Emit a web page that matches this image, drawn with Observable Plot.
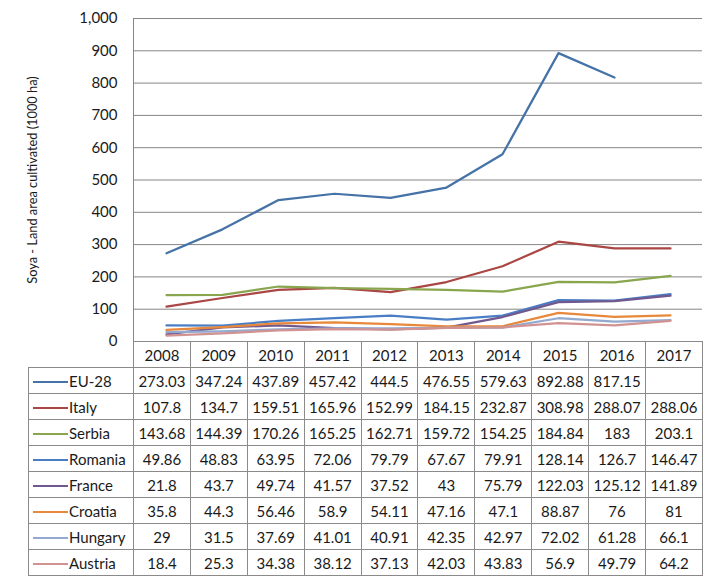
<!DOCTYPE html>
<html>
<head>
<meta charset="utf-8">
<script src="https://cdn.jsdelivr.net/npm/d3@7"></script>
<script src="https://cdn.jsdelivr.net/npm/@observablehq/plot@0.6"></script>
<style>
  html, body { margin: 0; padding: 0; background: #fff; }
  #wrap { position: relative; width: 719px; height: 583px; font-family: Lato, "Open Sans", sans-serif; color: #1a1a1a; }
  #chart { position: absolute; left: 0; top: 0; }
  #tbl { position: absolute; left: 28px; top: 341px; border-collapse: collapse; table-layout: fixed; font-size: 15px; }
  #tbl td { border: 1px solid #8a8a8a; text-align: center; padding: 0; height: 25px; white-space: nowrap; overflow: hidden; }
  #tbl td.lab { text-align: left; padding-left: 4px; }
  #tbl td.empty { border-top: none; border-left: none; background: transparent; }
  .sw { display: inline-block; width: 35px; height: 2px; vertical-align: middle; margin-right: 1px; position: relative; top: -1px; }
</style>
</head>
<body>
<div id="wrap">
  <div id="chart"></div>
  <table id="tbl"></table>
</div>
<script>
const years = [2008, 2009, 2010, 2011, 2012, 2013, 2014, 2015, 2016, 2017];
const countries = ["EU-28", "Italy", "Serbia", "Romania", "France", "Croatia", "Hungary", "Austria"];
const eu28    = [273.03, 347.24, 437.89, 457.42, 444.5, 476.55, 579.63, 892.88, 817.15, null];
const italy   = [107.8, 134.7, 159.51, 165.96, 152.99, 184.15, 232.87, 308.98, 288.07, 288.06];
const serbia  = [143.68, 144.39, 170.26, 165.25, 162.71, 159.72, 154.25, 184.84, 183, 203.1];
const romania = [49.86, 48.83, 63.95, 72.06, 79.79, 67.67, 79.91, 128.14, 126.7, 146.47];
const france  = [21.8, 43.7, 49.74, 41.57, 37.52, 43, 75.79, 122.03, 125.12, 141.89];
const croatia = [35.8, 44.3, 56.46, 58.9, 54.11, 47.16, 47.1, 88.87, 76, 81];
const hungary = [29, 31.5, 37.69, 41.01, 40.91, 42.35, 42.97, 72.02, 61.28, 66.1];
const austria = [18.4, 25.3, 34.38, 38.12, 37.13, 42.03, 43.83, 56.9, 49.79, 64.2];
const colors = ["#4572A7", "#AA4643", "#89A54E", "#4A7EC4", "#71588F", "#E8883A", "#93A9CF", "#D19392"];
const yTicks = [0, 100, 200, 300, 400, 500, 600, 700, 800, 900, 1000];
const yLabel = "Soya - Land area cultivated (1000 ha)";

const series = [eu28, italy, serbia, romania, france, croatia, hungary, austria];
const data = [];
series.forEach((vals, i) => vals.forEach((v, j) => {
  if (v != null) data.push({country: countries[i], year: years[j], value: v});
}));

const chart = Plot.plot({
  width: 719,
  height: 352,
  marginLeft: 133,
  marginRight: 17,
  marginTop: 18,
  marginBottom: 11,
  style: {fontFamily: "Lato, 'Open Sans', sans-serif", background: "transparent"},
  x: {type: "point", domain: years, padding: 0.5, axis: null},
  y: {domain: [0, 1000]},
  color: {domain: countries, range: colors},
  marks: [
    Plot.gridY(yTicks, {stroke: "#868686", strokeOpacity: 1, strokeWidth: 1}),
    Plot.frame({anchor: "left", stroke: "#868686"}),
    Plot.axisY(yTicks, {
      tickSize: 0, tickPadding: 16, fontSize: 15, fill: "#1a1a1a",
      tickFormat: d3.format(","),
      label: yLabel, labelAnchor: "center", labelArrow: "none", labelOffset: 106
    }),
    Plot.line(data, {x: "year", y: "value", stroke: "country", z: "country", strokeWidth: 2.25, strokeLinejoin: "round"})
  ]
});
document.getElementById("chart").appendChild(chart);
d3.select(chart).selectAll("g[aria-label='y-axis label'] text").attr("font-size", 12.8).attr("fill", "#1a1a1a");

// table
const tbl = d3.select("#tbl");
const colg = tbl.append("colgroup");
colg.append("col").style("width", "105px");
years.forEach(() => colg.append("col").style("width", "56.9px"));
const head = tbl.append("tr");
head.append("td").attr("class", "empty");
years.forEach(y => head.append("td").text(y));
series.forEach((vals, i) => {
  const tr = tbl.append("tr");
  const lab = tr.append("td").attr("class", "lab");
  lab.append("span").attr("class", "sw").style("background", colors[i]);
  lab.append("span").text(countries[i]);
  vals.forEach(v => tr.append("td").text(v == null ? "" : String(v)));
});
</script>
</body>
</html>
